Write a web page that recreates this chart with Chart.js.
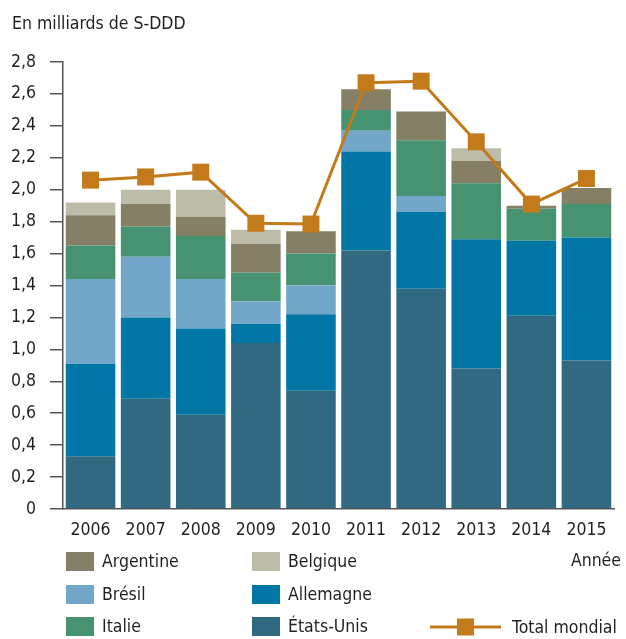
<!DOCTYPE html>
<html>
<head>
<meta charset="utf-8">
<script src="https://cdn.jsdelivr.net/npm/chart.js@4"></script>
<style>
  html, body { margin: 0; padding: 0; background: #fff; }
  #wrap { width: 626px; height: 639px; }
</style>
</head>
<body>
<div id="wrap"><canvas id="myChart" width="626" height="639"></canvas></div>
<script>
// données (milliards de S-DDD)
const annees = ["2006", "2007", "2008", "2009", "2010", "2011", "2012", "2013", "2014", "2015"];
const etatsUnis = [0.33, 0.69, 0.59, 1.04, 0.74, 1.62, 1.38, 0.88, 1.21, 0.93];
const allemagne = [0.58, 0.51, 0.54, 0.12, 0.48, 0.62, 0.48, 0.81, 0.47, 0.77];
const bresil    = [0.53, 0.38, 0.31, 0.14, 0.18, 0.13, 0.10, 0.00, 0.00, 0.00];
const italie    = [0.21, 0.19, 0.27, 0.18, 0.20, 0.13, 0.35, 0.35, 0.20, 0.21];
const argentine = [0.19, 0.14, 0.12, 0.18, 0.14, 0.13, 0.18, 0.14, 0.02, 0.10];
const belgique  = [0.08, 0.09, 0.17, 0.09, 0.00, 0.00, 0.00, 0.08, 0.00, 0.00];
const totalMondial = [2.06, 2.08, 2.11, 1.79, 1.785, 2.67, 2.68, 2.30, 1.91, 2.07];
const yTicks = [0, 0.2, 0.4, 0.6, 0.8, 1.0, 1.2, 1.4, 1.6, 1.8, 2.0, 2.2, 2.4, 2.6, 2.8];

const police = "'Liberation Sans Narrow', 'DejaVu Sans Condensed', 'Arial Narrow', sans-serif";
const texte = "#231f20";

const ctx = document.getElementById("myChart");

function barres(label, data, couleur) {
  return {
    type: "bar",
    label: label,
    data: data,
    backgroundColor: couleur,
    stack: "pays",
    categoryPercentage: 1.0,
    barPercentage: 0.9,
    order: 2,
  };
}

// légende dessinée à la main (3 colonnes)
const legendePerso = {
  id: "legendePerso",
  afterDraw(chart) {
    const c = chart.ctx;
    c.save();
    c.fillStyle = texte;
    c.textBaseline = "middle";

    // titre de l'axe y
    c.font = "17.5px " + police;
    c.textAlign = "left";
    c.fillText("En milliards de S-DDD", 12, 24);

    // Année
    c.font = "17.5px " + police;
    c.textAlign = "right";
    c.fillText("Année", 621, 561);

    const items = [
      { i: 4, x: 66, y: 552 },
      { i: 5, x: 252, y: 552 },
      { i: 2, x: 66, y: 585 },
      { i: 1, x: 252, y: 585 },
      { i: 3, x: 66, y: 617 },
      { i: 0, x: 252, y: 617 },
    ];
    c.textAlign = "left";
    items.forEach(it => {
      const ds = chart.data.datasets[it.i];
      c.fillStyle = ds.backgroundColor;
      c.fillRect(it.x, it.y, 28, 19);
      c.fillStyle = texte;
      c.fillText(ds.label, it.x + 36, it.y + 10);
    });

    // Total mondial
    const tot = chart.data.datasets[6];
    c.strokeStyle = tot.borderColor;
    c.lineWidth = 3;
    c.beginPath();
    c.moveTo(430, 627);
    c.lineTo(501, 627);
    c.stroke();
    c.fillStyle = tot.borderColor;
    c.fillRect(457, 618.5, 17, 17);
    c.fillStyle = texte;
    c.fillText(tot.label, 512, 628);
    c.restore();
  },
};

new Chart(ctx, {
  data: {
    labels: annees,
    datasets: [
      barres("États-Unis", etatsUnis, "#316a80"),
      barres("Allemagne", allemagne, "#0277a6"),
      barres("Brésil", bresil, "#73a7ca"),
      barres("Italie", italie, "#479270"),
      barres("Argentine", argentine, "#847f65"),
      barres("Belgique", belgique, "#bdbca8"),
      {
        type: "line",
        label: "Total mondial",
        data: totalMondial,
        stack: "total",
        borderColor: "#c27a1b",
        backgroundColor: "#c27a1b",
        borderWidth: 3,
        pointStyle: "rect",
        pointRadius: 12,
        pointHoverRadius: 12,
        pointBorderWidth: 0,
        tension: 0,
        order: 1,
      },
    ],
  },
  options: {
    responsive: false,
    animation: false,
    events: [],
    layout: { padding: { top: 62, right: 8, bottom: 90, left: 0 } },
    plugins: {
      legend: { display: false },
      tooltip: { enabled: false },
    },
    scales: {
      x: {
        stacked: true,
        grid: { display: false },
        border: { display: true, color: "#555", width: 1.5 },
        ticks: { color: texte, font: { family: police, size: 17.5 }, padding: 3 },
        afterFit(scale) { scale.height = 40; },
      },
      y: {
        stacked: true,
        min: 0,
        max: 2.8,
        afterBuildTicks(scale) { scale.ticks = yTicks.map(v => ({ value: v })); },
        grid: { drawOnChartArea: false, drawTicks: true, tickLength: 13, color: "#555", lineWidth: 1.5 },
        border: { display: true, color: "#555", width: 1.5 },
        ticks: {
          color: texte,
          font: { family: police, size: 17.5 },
          padding: 14,
          callback: v => (v === 0 ? "0" : v.toFixed(1).replace(".", ",")),
        },
        afterFit(scale) { scale.width = 63; },
      },
    },
  },
  plugins: [legendePerso],
});
</script>
</body>
</html>
